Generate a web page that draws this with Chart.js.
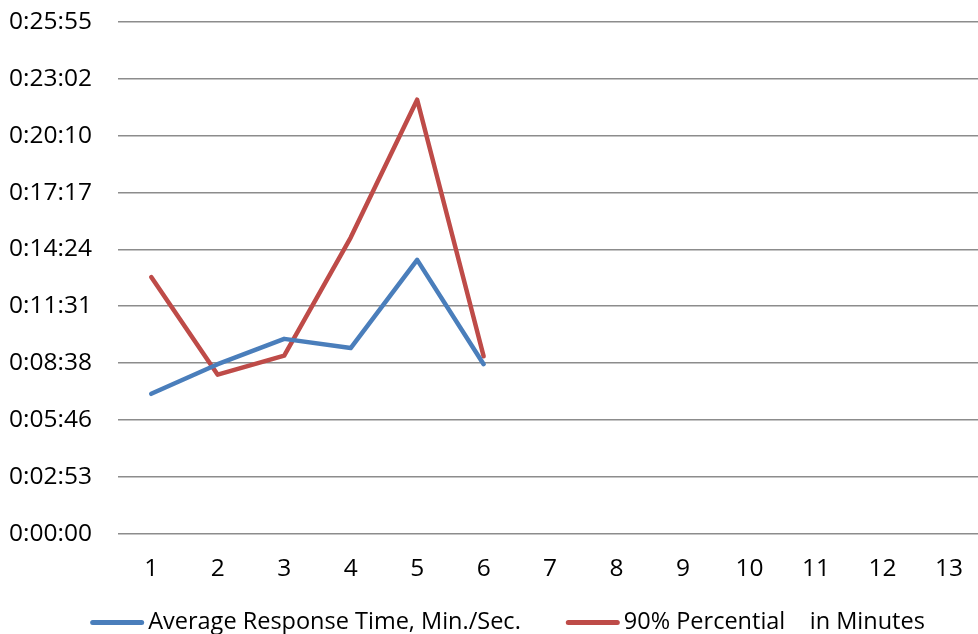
<!DOCTYPE html>
<html>
<head>
<meta charset="utf-8">
<script src="https://cdn.jsdelivr.net/npm/chart.js@4"></script>
<style>
  html, body { margin: 0; padding: 0; background: #fff; overflow: hidden; }
  #wrap { width: 984px; height: 634px; position: relative; }
</style>
</head>
<body>
<div id="wrap"><canvas id="c"></canvas></div>
<script>
// Data (values in seconds)
const categories = ['1','2','3','4','5','6','7','8','9','10','11','12','13'];
const avgResponseSeconds = [425, 515, 592, 564, 832, 515];
const percentile90Seconds = [780, 483, 541, 900, 1319, 539];
const seriesLabels = ['Average Response Time, Min./Sec.', '90% Percential    in Minutes'];
const yTickSeconds = [0, 172.8, 345.6, 518.4, 691.2, 864, 1036.8, 1209.6, 1382.4, 1555.2];

function fmt(sec) {
  const s = Math.round(sec);
  const h = Math.floor(s / 3600);
  const m = Math.floor((s % 3600) / 60);
  const ss = s % 60;
  return h + ':' + String(m).padStart(2, '0') + ':' + String(ss).padStart(2, '0');
}

const FONT = "'Open Sans', sans-serif";

// Legend drawn below the axis, line sample then label, like the original
const bottomLegend = {
  id: 'bottomLegend',
  afterDraw(chart) {
    const ctx = chart.ctx;
    ctx.save();
    ctx.font = '23.5px ' + FONT;
    const lineW = 54, gapText = 4, gapItems = 45;
    const items = chart.data.datasets.map(ds => ({
      label: ds.label,
      color: ds.borderColor,
      w: lineW + gapText + ctx.measureText(ds.label).width
    }));
    const total = items.reduce((a, it) => a + it.w, 0) + gapItems * (items.length - 1);
    let x = 507.5 - total / 2;
    const y = chart.chartArea.bottom + 89;
    items.forEach(it => {
      ctx.strokeStyle = it.color;
      ctx.lineWidth = 5;
      ctx.lineCap = 'round';
      ctx.beginPath();
      ctx.moveTo(x + 2.5, y);
      ctx.lineTo(x + lineW - 2.5, y);
      ctx.stroke();
      ctx.fillStyle = '#000';
      ctx.textBaseline = 'middle';
      ctx.textAlign = 'left';
      ctx.fillText(it.label, x + lineW + gapText, y);
      x += it.w + gapItems;
    });
    ctx.restore();
  }
};

new Chart(document.getElementById('c'), {
  type: 'line',
  data: {
    labels: categories,
    datasets: [
      {
        label: seriesLabels[0],
        data: avgResponseSeconds,
        borderColor: '#4a7ebb',
        backgroundColor: '#4a7ebb',
        borderWidth: 4.5,
        pointRadius: 0,
        tension: 0,
        borderCapStyle: 'round',
        borderJoinStyle: 'round'
      },
      {
        label: seriesLabels[1],
        data: percentile90Seconds,
        borderColor: '#be4b48',
        backgroundColor: '#be4b48',
        borderWidth: 4.5,
        pointRadius: 0,
        tension: 0,
        borderCapStyle: 'round',
        borderJoinStyle: 'round'
      }
    ]
  },
  plugins: [bottomLegend],
  options: {
    responsive: true,
    maintainAspectRatio: false,
    animation: false,
    layout: { padding: { left: 0, right: 0, top: 22, bottom: 29 } },
    plugins: {
      tooltip: { enabled: false },
      legend: { display: false }
    },
    scales: {
      x: {
        offset: true,
        grid: { display: false, drawTicks: false },
        border: { display: false },
        ticks: {
          font: { family: FONT, size: 24.5, lineHeight: 1.2 },
          color: '#000',
          padding: 21,
          maxRotation: 0,
          autoSkip: false
        }
      },
      y: {
        min: 0,
        max: 1555.2,
        afterBuildTicks(scale) {
          scale.ticks = yTickSeconds.map(v => ({ value: v }));
        },
        afterFit(scale) {
          scale.width = 118;
          scale.paddingTop = 0;
          scale.paddingBottom = 0;
        },
        grid: { color: '#8c8c8c', lineWidth: 1.5, drawTicks: false },
        border: { display: false },
        ticks: {
          font: { family: FONT, size: 24.5 },
          color: '#000',
          padding: 26,
          callback: v => fmt(v)
        }
      }
    }
  }
});
</script>
</body>
</html>
